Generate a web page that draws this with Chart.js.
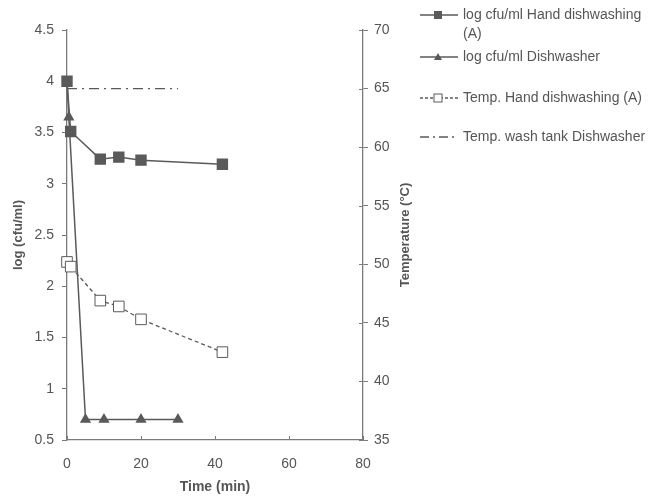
<!DOCTYPE html>
<html>
<head>
<meta charset="utf-8">
<script src="https://cdn.jsdelivr.net/npm/chart.js@4"></script>
<style>
  html, body { margin: 0; padding: 0; background: #fff; }
  #wrap { width: 659px; height: 496px; }
</style>
</head>
<body>
<div id="wrap"><canvas id="c" width="659" height="496"></canvas></div>
<script>
// time (min) and values
const handTimes = [0, 1, 9, 14, 20, 42];
const handLog = [4.0, 3.51, 3.24, 3.26, 3.23, 3.19];
const dishTimes = [0, 0.5, 5, 10, 20, 30];
const dishLog = [4.0, 3.65, 0.7, 0.7, 0.7, 0.7];
const handTemp = [50.2, 49.8, 46.9, 46.4, 45.3, 42.5];
const tankTimes = [0, 30];
const tankTemp = [65, 65];

const legendLabels = [
  ["log cfu/ml Hand dishwashing", "(A)"],
  ["log cfu/ml Dishwasher"],
  ["Temp. Hand dishwashing (A)"],
  ["Temp. wash tank Dishwasher"]
];

const grey = '#5a5a5a';
const axisGrey = '#7a7a7a';
const textGrey = '#555';
const fam = '"Liberation Sans", Arial, sans-serif';

function pts(xs, ys) {
  return xs.map((x, i) => ({ x: x, y: ys[i] }));
}

// legend on the right, axis titles and the inner ticks
const extras = {
  id: 'extras',
  afterDraw(chart) {
    const ctx = chart.ctx;
    const area = chart.chartArea;
    ctx.save();

    // inner half of right axis ticks
    const r = chart.scales.y2;
    ctx.strokeStyle = axisGrey;
    ctx.lineWidth = 1;
    r.ticks.forEach(t => {
      const y = Math.round(r.getPixelForValue(t.value)) + 0.5;
      ctx.beginPath();
      ctx.moveTo(area.right - 4, y);
      ctx.lineTo(area.right, y);
      ctx.stroke();
    });
    // x ticks point up into the plot
    const xs = chart.scales.x;
    xs.ticks.forEach(t => {
      const x = Math.round(xs.getPixelForValue(t.value)) + 0.5;
      ctx.beginPath();
      ctx.moveTo(x, area.bottom);
      ctx.lineTo(x, area.bottom - 4);
      ctx.stroke();
    });

    // axis titles
    ctx.fillStyle = textGrey;
    ctx.font = 'bold 13px ' + fam;
    ctx.textAlign = 'center';
    ctx.textBaseline = 'middle';
    const midY = (area.top + area.bottom) / 2;
    [[18, 'log (cfu/ml)'], [405, 'Temperature (°C)']].forEach(([x, t]) => {
      ctx.save();
      ctx.translate(x, midY);
      ctx.rotate(-Math.PI / 2);
      ctx.fillText(t, 0, 0);
      ctx.restore();
    });
    ctx.font = 'bold 14px ' + fam;
    ctx.fillText('Time (min)', (area.left + area.right) / 2, 487);

    // legend
    const x0 = 420, x1 = 458, xm = 438, tx = 463;
    const rows = [15, 57, 98, 137];
    ctx.font = '14px ' + fam;
    ctx.textAlign = 'left';
    rows.forEach((y, i) => {
      ctx.save();
      ctx.strokeStyle = grey;
      ctx.lineWidth = 1.3;
      if (i == 2) ctx.setLineDash([3, 2]);
      if (i == 3) ctx.setLineDash([9, 4, 2, 4]);
      ctx.beginPath();
      ctx.moveTo(x0, y);
      ctx.lineTo(x1, y);
      ctx.stroke();
      ctx.setLineDash([]);
      if (i == 0) {
        ctx.fillStyle = grey;
        ctx.fillRect(xm - 4, y - 4, 8, 8);
      } else if (i == 1) {
        ctx.fillStyle = grey;
        ctx.beginPath();
        ctx.moveTo(xm, y - 4);
        ctx.lineTo(xm + 4, y + 3);
        ctx.lineTo(xm - 4, y + 3);
        ctx.closePath();
        ctx.fill();
      } else if (i == 2) {
        ctx.fillStyle = '#fff';
        ctx.fillRect(xm - 4, y - 4, 8, 8);
        ctx.lineWidth = 1;
        ctx.strokeRect(xm - 4, y - 4, 8, 8);
      }
      ctx.restore();
      legendLabels[i].forEach((t, k) => ctx.fillText(t, tx, y + k * 19));
    });
    ctx.restore();
  }
};

const tickFont = { family: fam, size: 14 };
const plain = v => String(v);

new Chart(document.getElementById('c'), {
  type: 'scatter',
  data: {
    datasets: [
      {
        label: legendLabels[0].join(' '),
        data: pts(handTimes, handLog),
        yAxisID: 'y',
        showLine: true,
        borderColor: grey,
        backgroundColor: grey,
        borderWidth: 1.5,
        pointStyle: 'rect',
        pointRadius: 7,
        clip: false
      },
      {
        label: legendLabels[1][0],
        data: pts(dishTimes, dishLog),
        yAxisID: 'y',
        showLine: true,
        borderColor: grey,
        backgroundColor: grey,
        borderWidth: 1.5,
        pointStyle: 'triangle',
        pointRadius: [0, 5, 5, 5, 5, 5],
        clip: false
      },
      {
        label: legendLabels[2][0],
        data: pts(handTimes, handTemp),
        yAxisID: 'y2',
        showLine: true,
        borderColor: grey,
        backgroundColor: '#fff',
        borderWidth: 1.3,
        borderDash: [4, 3],
        pointStyle: 'rect',
        pointRadius: 7.5,
        pointBorderWidth: 1,
        clip: false
      },
      {
        label: legendLabels[3][0],
        data: pts(tankTimes, tankTemp),
        yAxisID: 'y2',
        showLine: true,
        borderColor: grey,
        borderWidth: 1.3,
        borderDash: [10, 5, 2, 5],
        pointRadius: 0,
        clip: false
      }
    ]
  },
  options: {
    responsive: false,
    animation: false,
    layout: { padding: { top: 30, right: 229, left: 0, bottom: 0 } },
    plugins: {
      legend: { display: false },
      tooltip: { enabled: false }
    },
    scales: {
      x: {
        type: 'linear',
        min: 0,
        max: 80,
        ticks: { stepSize: 20, color: textGrey, font: tickFont, padding: 16, callback: plain },
        grid: { drawOnChartArea: false, drawTicks: false, color: axisGrey },
        border: { color: axisGrey, width: 1.3 },
        afterFit(s) { s.height = 56; }
      },
      y: {
        position: 'left',
        min: 0.5,
        max: 4.5,
        ticks: { stepSize: 0.5, color: textGrey, font: tickFont, padding: 8, callback: plain },
        grid: { drawOnChartArea: false, color: axisGrey, tickLength: 5 },
        border: { color: axisGrey, width: 1.3 },
        afterFit(s) { s.width = 67; }
      },
      y2: {
        position: 'right',
        min: 35,
        max: 70,
        ticks: { stepSize: 5, color: textGrey, font: tickFont, padding: 6, callback: plain },
        grid: { drawOnChartArea: false, color: axisGrey, tickLength: 5 },
        border: { color: axisGrey, width: 1.3 },
        afterFit(s) { s.width = 67; }
      }
    }
  },
  plugins: [extras]
});
</script>
</body>
</html>
